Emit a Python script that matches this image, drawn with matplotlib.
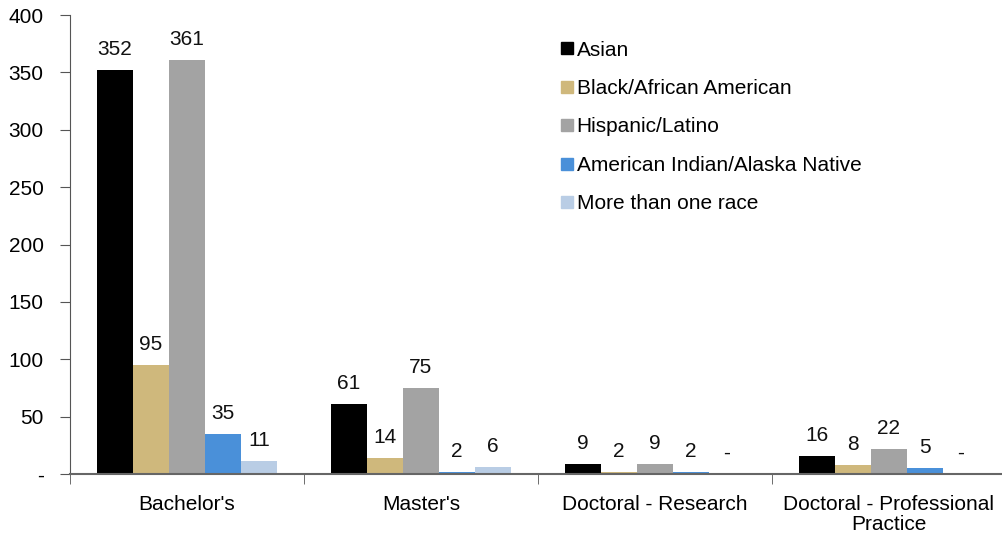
import numpy as np
import matplotlib
matplotlib.use("Agg")
from matplotlib import pyplot as plt
from matplotlib.lines import Line2D

plt.rcParams['font.family'] = ['Liberation Sans', 'DejaVu Sans']

categories = ["Bachelor's", "Master's", "Doctoral - Research", "Doctoral - Professional\nPractice"]
series_names = ['Asian', 'Black/African American', 'Hispanic/Latino',
                'American Indian/Alaska Native', 'More than one race']
asian = [352, 61, 9, 16]
black = [95, 14, 2, 8]
hispanic = [361, 75, 9, 22]
native = [35, 2, 2, 5]
multi = [11, 6, 0, 0]
colors = ['#000000', '#CFB87C', '#A3A3A3', '#4A90D9', '#B9CDE5']
y_ticks = [0, 50, 100, 150, 200, 250, 300, 350, 400]
y_labels = ['-', '50', '100', '150', '200', '250', '300', '350', '400']

all_series = [asian, black, hispanic, native, multi]
fs = 15

fig = plt.figure(figsize=(10.03, 5.38), dpi=100)
ax = fig.add_axes([0.0698, 0.119, 0.933, 0.853])

n = len(all_series)
bar_w = 0.154
x = np.arange(len(categories)) + 0.5
for i, vals in enumerate(all_series):
    pos = x + (i - (n - 1) / 2) * bar_w
    bars = ax.bar(pos, vals, width=bar_w, color=colors[i], linewidth=0,
                  label=series_names[i], zorder=2)
    for b, v in zip(bars, vals):
        txt = str(v) if v > 0 else '-'
        ax.annotate(txt, (b.get_x() + b.get_width() / 2, v), xytext=(0, 8),
                    textcoords='offset points', ha='center', va='bottom',
                    fontsize=fs, color='#111111')

ax.set_xlim(0, len(categories))
ax.set_ylim(0, 400)
ax.set_yticks(y_ticks)
ax.set_yticklabels(y_labels, fontsize=fs)
ax.set_xticks(x)
ax.set_xticklabels(categories, fontsize=fs, linespacing=1.1)
ax.set_xticks(np.arange(len(categories) + 1), minor=True)
ax.tick_params(axis='x', which='major', length=0, pad=15)
ax.tick_params(axis='x', which='minor', length=7, direction='out', color='#555555')
ax.tick_params(axis='y', length=7, direction='out', color='#555555', pad=12)

for s in ['top', 'right']:
    ax.spines[s].set_visible(False)
ax.spines['left'].set_color('#555555')
ax.spines['bottom'].set_color('#666666')
ax.spines['bottom'].set_linewidth(1.5)

handles = [Line2D([0], [0], marker='s', linestyle='none', markersize=9,
                  markerfacecolor=c, markeredgecolor=c) for c in colors]
ax.legend(handles, series_names, loc='upper left', bbox_to_anchor=(0.5, 0.985),
          frameon=False, fontsize=fs, handletextpad=0.0, labelspacing=0.93,
          handlelength=0.96)

fig.savefig('out.png', dpi=100)
